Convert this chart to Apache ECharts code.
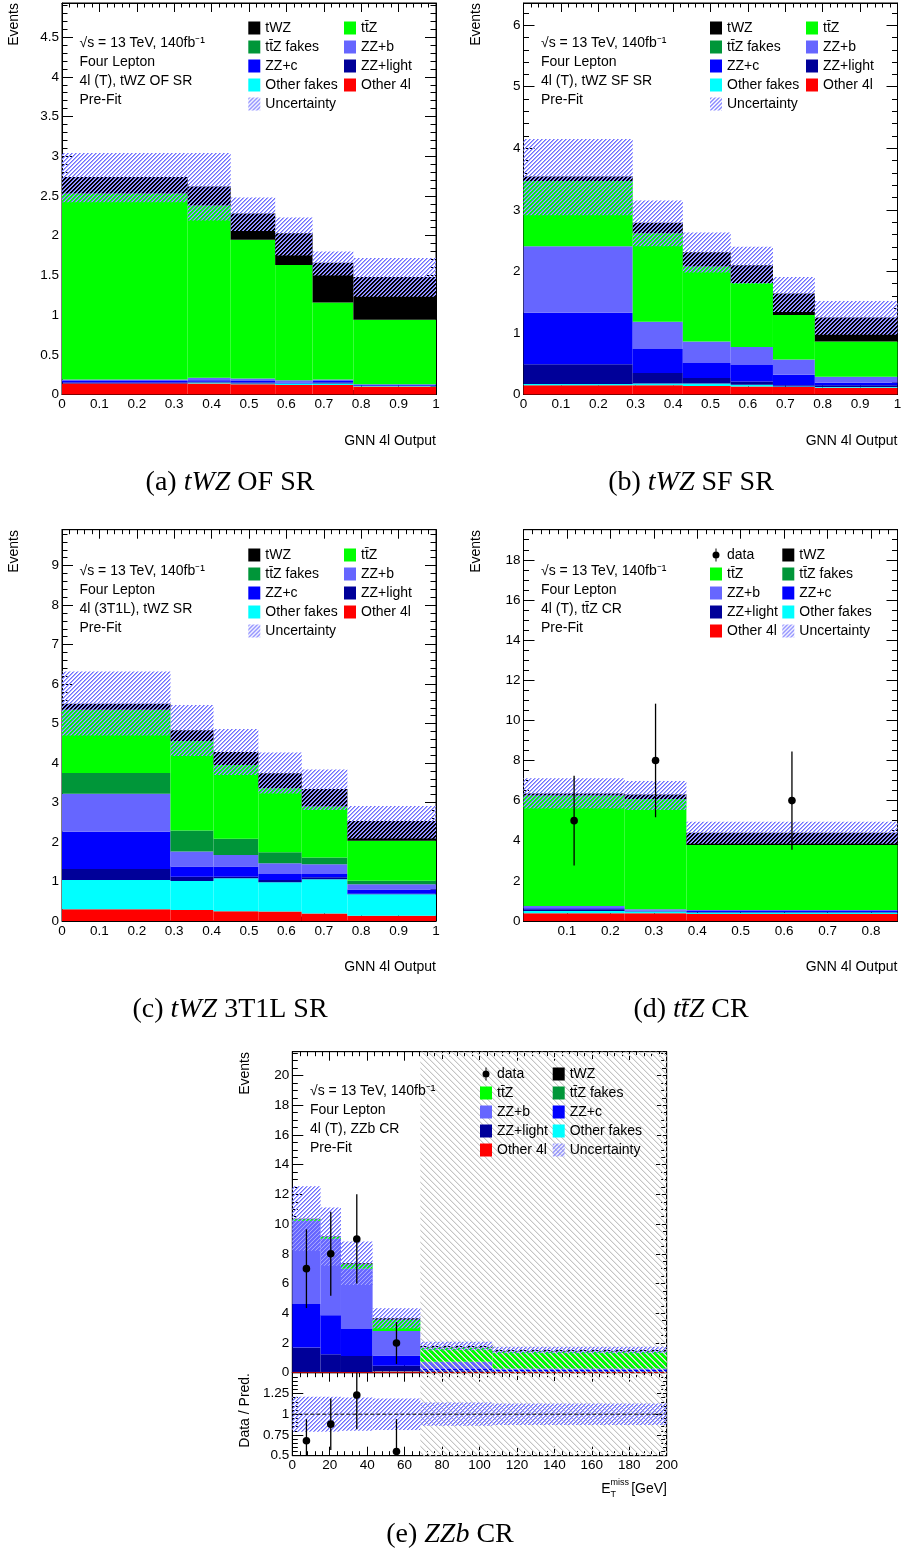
<!DOCTYPE html>
<html>
<head>
<meta charset="utf-8">
<title>Four lepton GNN output</title>
<script src="https://cdn.jsdelivr.net/npm/echarts@6/dist/echarts.min.js"></script>
<style>
  html, body { margin: 0; padding: 0; background: #fff; }
  #chart { width: 901px; height: 1555px; }
</style>
</head>
<body>
<div id="chart"></div>
<script>
// stack order, bottom to top
const procNames = ['Other 4l', 'Other fakes', 'ZZ+light', 'ZZ+c', 'ZZ+b', 'tt̄Z fakes', 'tt̄Z', 'tWZ'];
const procColors = ['#ff0000', '#00ffff', '#000099', '#0000ff', '#6666ff', '#009639', '#00ff00', '#000000'];

// (a) tWZ OF SR
const aEdges = [0, 0.336, 0.451, 0.570, 0.670, 0.779, 1];
const aOther4l = [0.14, 0.14, 0.13, 0.12, 0.12, 0.10];
const aOtherFakes = [0.00, 0.01, 0.01, 0.02, 0.02, 0.01];
const aZZlight = [0.01, 0.01, 0.01, 0.00, 0.01, 0.00];
const aZZc = [0.02, 0.02, 0.02, 0.01, 0.02, 0.01];
const aZZb = [0.02, 0.03, 0.03, 0.03, 0.02, 0.01];
const aTtzFakes = [0, 0, 0, 0, 0, 0];
const aTtz = [2.34, 2.17, 1.75, 1.45, 0.97, 0.81];
const aTwz = [0.21, 0.24, 0.33, 0.40, 0.50, 0.54];
const aUncLow = [2.42, 2.19, 2.06, 1.75, 1.50, 1.23];
const aUncHigh = [3.04, 3.04, 2.48, 2.23, 1.80, 1.72];

// (b) tWZ SF SR
const bEdges = [0, 0.292, 0.426, 0.554, 0.667, 0.779, 1];
const bOther4l = [0.15, 0.15, 0.14, 0.13, 0.12, 0.11];
const bOtherFakes = [0.02, 0.03, 0.04, 0.03, 0.01, 0.01];
const bZZlight = [0.32, 0.17, 0.09, 0.05, 0.02, 0.03];
const bZZc = [0.84, 0.39, 0.24, 0.27, 0.17, 0.04];
const bZZb = [1.08, 0.44, 0.35, 0.29, 0.25, 0.10];
const bTtzFakes = [0, 0, 0, 0, 0, 0];
const bTtz = [1.06, 1.44, 1.22, 1.04, 0.72, 0.57];
const bTwz = [0.07, 0.17, 0.23, 0.29, 0.35, 0.39];
const bUncLow = [2.91, 2.41, 1.98, 1.80, 1.34, 0.97];
const bUncHigh = [4.15, 3.15, 2.63, 2.40, 1.91, 1.52];

// (c) tWZ 3T1L SR
const cEdges = [0, 0.290, 0.405, 0.525, 0.641, 0.763, 1];
const cOther4l = [0.30, 0.28, 0.25, 0.24, 0.19, 0.135];
const cOtherFakes = [0.74, 0.73, 0.83, 0.74, 0.87, 0.545];
const cZZlight = [0.28, 0.11, 0.04, 0.06, 0.05, 0.01];
const cZZc = [0.94, 0.26, 0.26, 0.15, 0.08, 0.11];
const cZZb = [0.96, 0.38, 0.29, 0.27, 0.25, 0.13];
const cTtzFakes = [0.53, 0.53, 0.41, 0.28, 0.17, 0.09];
const cTtz = [1.60, 2.27, 1.87, 1.62, 1.29, 1.01];
const cTwz = [0.15, 0.27, 0.33, 0.38, 0.44, 0.50];
const cUncLow = [4.70, 4.18, 3.70, 3.23, 2.81, 2.09];
const cUncHigh = [6.32, 5.47, 4.86, 4.27, 3.84, 2.91];

// (d) ttZ CR
const dEdges = [0, 0.233, 0.375, 0.861];
const dOther4l = [0.38, 0.38, 0.35];
const dOtherFakes = [0.12, 0.09, 0.07];
const dZZlight = [0.08, 0.02, 0.03];
const dZZc = [0.05, 0.02, 0.05];
const dZZb = [0.12, 0.07, 0.05];
const dTtzFakes = [0, 0, 0];
const dTtz = [5.50, 5.50, 3.24];
const dTwz = [0.11, 0.23, 0.61];
const dUncLow = [5.61, 5.53, 3.85];
const dUncHigh = [7.11, 6.98, 4.95];
const dData = [5, 8, 6];
const dDataErr = [2.24, 2.83, 2.45];

// (e) ZZb CR
const eEdges = [0, 15.1, 26.0, 42.9, 68.4, 106.9, 200];
const eOther4l = [0.05, 0.05, 0.05, 0.08, 0.05, 0.05];
const eOtherFakes = [0, 0, 0, 0.02, 0.01, 0.01];
const eZZlight = [1.64, 1.19, 1.07, 0.37, 0.09, 0.04];
const eZZc = [2.94, 2.63, 1.82, 0.68, 0.10, 0.08];
const eZZb = [5.59, 5.14, 4.05, 1.66, 0.49, 0.11];
const eTtzFakes = [0, 0, 0, 0, 0, 0];
const eTtz = [0.11, 0.13, 0.31, 0.76, 0.95, 1.13];
const eTwz = [0.03, 0.03, 0.07, 0.09, 0.11, 0.11];
const eUncLow = [8.20, 7.20, 5.90, 2.98, 1.51, 1.31];
const eUncHigh = [12.54, 11.12, 8.83, 4.34, 2.09, 1.75];
const eData = [7, 8, 9, 2];
const eDataErr = [2.65, 2.83, 3.00, 1.41];
const eRatio = [0.68, 0.88, 1.23, 0.55];
const eRatioErr = [0.26, 0.31, 0.41, 0.39];
const eRatioBandLow = [0.79, 0.79, 0.80, 0.81, 0.86, 0.87];
const eRatioBandHigh = [1.21, 1.21, 1.20, 1.19, 1.14, 1.13];
const eBlinded = [68.4, 200];

const FONT = 'Liberation Sans, Arial, Helvetica, sans-serif';
const SERIF = 'Liberation Serif, Times New Roman, serif';

// crisp pixel hatch tiles, like the ROOT raster fill styles
function pixelHatch(size, pick) {
  const c = document.createElement('canvas');
  c.width = size; c.height = size;
  const g = c.getContext('2d');
  for (let y = 0; y < size; y++) {
    for (let x = 0; x < size; x++) {
      const col = pick(x, y);
      if (col) { g.fillStyle = col; g.fillRect(x, y, 1, 1); }
    }
  }
  return { image: c, repeat: 'repeat' };
}
// "/" blue lines for the uncertainty band
const hatchBlue = pixelHatch(4, (x, y) => ((x + y) % 4 === 0 ? '#6f6fff' : ((x + y) % 4 === 1 ? '#a6a6ff' : null)));
// "\" grey lines for the blinded region
const hatchGrey = pixelHatch(6, (x, y) => {
  const d = (x - y + 6) % 6;
  return d === 0 ? '#c4c4c4' : (d === 1 ? '#ebebeb' : null);
});

const panels = [
  { edges: aEdges, layers: [aOther4l, aOtherFakes, aZZlight, aZZc, aZZb, aTtzFakes, aTtz, aTwz], uncLow: aUncLow, uncHigh: aUncHigh },
  { edges: bEdges, layers: [bOther4l, bOtherFakes, bZZlight, bZZc, bZZb, bTtzFakes, bTtz, bTwz], uncLow: bUncLow, uncHigh: bUncHigh },
  { edges: cEdges, layers: [cOther4l, cOtherFakes, cZZlight, cZZc, cZZb, cTtzFakes, cTtz, cTwz], uncLow: cUncLow, uncHigh: cUncHigh },
  { edges: dEdges, layers: [dOther4l, dOtherFakes, dZZlight, dZZc, dZZb, dTtzFakes, dTtz, dTwz], uncLow: dUncLow, uncHigh: dUncHigh, data: dData, err: dDataErr },
  { edges: eEdges, layers: [eOther4l, eOtherFakes, eZZlight, eZZc, eZZb, eTtzFakes, eTtz, eTwz], uncLow: eUncLow, uncHigh: eUncHigh, data: eData, err: eDataErr }
];

// plot frames
const grids = [
  { left: 62, top: 3, width: 374, height: 391.5 },
  { left: 523.5, top: 3, width: 374, height: 391.5 },
  { left: 62, top: 529.7, width: 374, height: 391.3 },
  { left: 523.5, top: 529.7, width: 374, height: 391.3 },
  { left: 292.3, top: 1051.7, width: 374.4, height: 321 },
  { left: 292.3, top: 1372.7, width: 374.4, height: 83 }
];
// [min, max, interval, minor divisions, show labels, show max label, show min label]
const xRanges = [
  [0, 1, 0.1, 5, true, true, true],
  [0, 1, 0.1, 5, true, true, true],
  [0, 1, 0.1, 5, true, true, true],
  [0, 0.861, 0.1, 5, true, false, false],
  [0, 200, 20, 5, false, true, true],
  [0, 200, 20, 5, true, true, true]
];
const yRanges = [
  [0, 4.93, 0.5, 5, true, false, true],
  [0, 6.36, 1, 5, true, false, true],
  [0, 9.91, 1, 5, true, false, true],
  [0, 19.5, 2, 4, true, false, true],
  [0, 21.6, 2, 4, true, false, true],
  [0.5, 1.5, 0.25, 5, true, false, true]
];

function axis(gi, pos, r, withLabels, len) {
  return {
    type: 'value', gridIndex: gi, position: pos,
    min: r[0], max: r[1], interval: r[2],
    axisLine: { show: true, onZero: false, lineStyle: { color: '#000', width: 1 } },
    axisTick: { show: true, inside: true, length: len, lineStyle: { color: '#000', width: 1 } },
    minorTick: { show: true, splitNumber: r[3], length: len / 2, lineStyle: { color: '#000', width: 1 } },
    splitLine: { show: false },
    minorSplitLine: { show: false },
    axisLabel: {
      show: withLabels && r[4], margin: 3, color: '#000', fontFamily: FONT, fontSize: 13.5,
      showMaxLabel: r[5], showMinLabel: r[6]
    }
  };
}

const xAxes = [], yAxes = [];
grids.forEach((g, gi) => {
  xAxes.push(axis(gi, 'bottom', xRanges[gi], true, 9));
  xAxes.push(axis(gi, 'top', xRanges[gi], false, 9));
  yAxes.push(axis(gi, 'left', yRanges[gi], true, 11));
  yAxes.push(axis(gi, 'right', yRanges[gi], false, 11));
});

function rectRenderer(fill) {
  return function (params, api) {
    const p0 = api.coord([api.value(0), api.value(3)]);
    const p1 = api.coord([api.value(1), api.value(2)]);
    return {
      type: 'rect',
      shape: { x: p0[0], y: p0[1], width: p1[0] - p0[0], height: p1[1] - p0[1] },
      style: { fill: fill }
    };
  };
}

function blindRenderer(params, api) {
  const cs = params.coordSys;
  const x0 = api.coord([api.value(0), 1])[0];
  const x1 = api.coord([api.value(1), 1])[0];
  return { type: 'rect', shape: { x: x0, y: cs.y, width: x1 - x0, height: cs.height }, style: { fill: hatchGrey } };
}

function pointRenderer(params, api) {
  const cs = params.coordSys;
  const clampY = y => Math.max(cs.y, Math.min(cs.y + cs.height, y));
  const c = api.coord([api.value(0), api.value(1)]);
  const hi = api.coord([api.value(0), api.value(1) + api.value(2)]);
  const lo = api.coord([api.value(0), api.value(1) - api.value(2)]);
  const children = [{
    type: 'line',
    shape: { x1: c[0], y1: clampY(hi[1]), x2: c[0], y2: clampY(lo[1]) },
    style: { stroke: '#000', lineWidth: 1.3 }
  }];
  if (c[1] >= cs.y && c[1] <= cs.y + cs.height) {
    children.push({ type: 'circle', shape: { cx: c[0], cy: c[1], r: 3.8 }, style: { fill: '#000' } });
  }
  return { type: 'group', children: children };
}

const series = [];
panels.forEach((p, gi) => {
  const base = p.edges.slice(1).map(() => 0);
  p.layers.forEach((vals, k) => {
    const items = [];
    vals.forEach((v, b) => {
      if (v > 0) items.push([p.edges[b], p.edges[b + 1], base[b], base[b] + v]);
      base[b] += v;
    });
    series.push({
      type: 'custom', name: procNames[k], xAxisIndex: 2 * gi, yAxisIndex: 2 * gi, z: 2, silent: true,
      itemStyle: { color: procColors[k] }, renderItem: rectRenderer(procColors[k]), data: items
    });
  });
  series.push({
    type: 'custom', name: 'Uncertainty', xAxisIndex: 2 * gi, yAxisIndex: 2 * gi, z: 3, silent: true,
    itemStyle: { color: hatchBlue }, renderItem: rectRenderer(hatchBlue),
    data: p.uncLow.map((lo, b) => [p.edges[b], p.edges[b + 1], lo, p.uncHigh[b]])
  });
  if (p.data) {
    series.push({
      type: 'custom', name: 'data', xAxisIndex: 2 * gi, yAxisIndex: 2 * gi, z: 5, silent: true,
      itemStyle: { color: '#000' }, renderItem: pointRenderer,
      data: p.data.map((v, b) => [(p.edges[b] + p.edges[b + 1]) / 2, v, p.err[b]])
    });
  }
});

// blinded region, main and ratio pad
[4, 5].forEach(gi => {
  series.push({
    type: 'custom', name: 'blinded', xAxisIndex: 2 * gi, yAxisIndex: 2 * gi, z: 2.5, silent: true,
    itemStyle: { color: '#c4c4c4' }, renderItem: blindRenderer, data: [eBlinded]
  });
});

// ratio pad
series.push({
  type: 'custom', name: 'Uncertainty', xAxisIndex: 10, yAxisIndex: 10, z: 3, silent: true,
  itemStyle: { color: hatchBlue }, renderItem: rectRenderer(hatchBlue),
  data: eRatioBandLow.map((lo, b) => [eEdges[b], eEdges[b + 1], lo, eRatioBandHigh[b]])
});
series.push({
  type: 'line', name: 'unity', xAxisIndex: 10, yAxisIndex: 10, z: 6, silent: true,
  symbol: 'none', showSymbol: false,
  lineStyle: { color: '#000', width: 1, type: [4, 2] },
  data: [[eEdges[0], 1], [eEdges[eEdges.length - 1], 1]]
});
series.push({
  type: 'custom', name: 'data', xAxisIndex: 10, yAxisIndex: 10, z: 5, silent: true,
  itemStyle: { color: '#000' }, renderItem: pointRenderer,
  data: eRatio.map((v, b) => [(eEdges[b] + eEdges[b + 1]) / 2, v, eRatioErr[b]])
});

const dataIcon = 'path://M6,0h1v3h-1z M6,10h1v3h-1z M3,6.5a3.5,3.5 0 1 0 7,0a3.5,3.5 0 1 0 -7,0z';
function legendCol(left, top, names) {
  return {
    left: left, top: top, orient: 'vertical', padding: 0, itemGap: 5, z: 10,
    itemWidth: 12, itemHeight: 13, icon: 'rect', selectedMode: false,
    textStyle: { fontFamily: FONT, fontSize: 14, lineHeight: 14, color: '#000' },
    data: names.map(n => n === 'data' ? { name: n, icon: dataIcon } : n)
  };
}
const colSR1 = ['tWZ', 'tt̄Z fakes', 'ZZ+c', 'Other fakes', 'Uncertainty'];
const colSR2 = ['tt̄Z', 'ZZ+b', 'ZZ+light', 'Other 4l'];
const colCR1 = ['data', 'tt̄Z', 'ZZ+b', 'ZZ+light', 'Other 4l'];
const colCR2 = ['tWZ', 'tt̄Z fakes', 'ZZ+c', 'Other fakes', 'Uncertainty'];
const legends = [
  legendCol(248.3, 21, colSR1), legendCol(344, 21, colSR2),
  legendCol(710, 21, colSR1), legendCol(806, 21, colSR2),
  legendCol(248.3, 548, colSR1), legendCol(344, 548, colSR2),
  legendCol(710, 548, colCR1), legendCol(782.3, 548, colCR2),
  legendCol(480, 1067, colCR1), legendCol(552.7, 1067, colCR2)
];

// texts
const graphics = [];
function txt(x, y, text, opts) {
  graphics.push({
    type: 'text', x: x, y: y, z: 10, silent: true,
    style: Object.assign({ text: text, fontFamily: FONT, fontSize: 14, fill: '#000', align: 'left', verticalAlign: 'middle' }, opts || {})
  });
}
function vtxt(x, y, text) {
  graphics.push({
    type: 'text', x: x, y: y, z: 10, silent: true, rotation: Math.PI / 2,
    style: { text: text, fontFamily: FONT, fontSize: 14, fill: '#000', align: 'right', verticalAlign: 'middle' }
  });
}
const infoBlocks = [
  [79.5, 43.5, '4l (T), tWZ OF SR'],
  [541, 43.5, '4l (T), tWZ SF SR'],
  [79.5, 571, '4l (3T1L), tWZ SR'],
  [541, 571, '4l (T), tt̄Z CR'],
  [310, 1091.5, '4l (T), ZZb CR']
];
infoBlocks.forEach(b => {
  ['√s = 13 TeV, 140fb⁻¹', 'Four Lepton', b[2], 'Pre-Fit'].forEach((t, i) => txt(b[0], b[1] + 19 * i, t));
});
[[14.5, 3], [476, 3], [14.5, 530], [476, 530], [245.5, 1052]].forEach(p => vtxt(p[0], p[1], 'Events'));
vtxt(245.5, 1373, 'Data / Pred.');
[[436, 441], [897.5, 441], [436, 967.5], [897.5, 967.5]].forEach(p => txt(p[0], p[1], 'GNN 4l Output', { align: 'right' }));
txt(667, 1489, '[GeV]', { align: 'right' });
txt(610.5, 1483, 'miss', { fontSize: 9 });
txt(610.5, 1495, 'T', { fontSize: 9 });
txt(610.5, 1489, 'E', { align: 'right' });

const captions = [
  [230, 483, '(a) ', 'tWZ', ' OF SR'],
  [691, 483, '(b) ', 'tWZ', ' SF SR'],
  [230, 1010, '(c) ', 'tWZ', ' 3T1L SR'],
  [691, 1010, '(d) ', 'tt̄Z', ' CR'],
  [450, 1535, '(e) ', 'ZZb', ' CR']
];
captions.forEach(c => {
  graphics.push({
    type: 'text', x: c[0], y: c[1], z: 10, silent: true,
    style: {
      text: '{n|' + c[2] + '}{i|' + c[3] + '}{n|' + c[4] + '}',
      align: 'center', verticalAlign: 'middle', fontFamily: SERIF, fontSize: 28, fill: '#000',
      rich: {
        n: { fontFamily: SERIF, fontSize: 28, fill: '#000' },
        i: { fontFamily: SERIF, fontSize: 28, fontStyle: 'italic', fill: '#000' }
      }
    }
  });
});

const chart = echarts.init(document.getElementById('chart'), null, { renderer: 'canvas' });
chart.setOption({
  animation: false,
  backgroundColor: '#fff',
  grid: grids.map(g => Object.assign({ show: true, borderColor: '#000', borderWidth: 1, backgroundColor: 'transparent', containLabel: false, outerBoundsMode: 'none' }, g)),
  xAxis: xAxes,
  yAxis: yAxes,
  legend: legends,
  series: series,
  graphic: graphics
});
</script>
</body>
</html>
